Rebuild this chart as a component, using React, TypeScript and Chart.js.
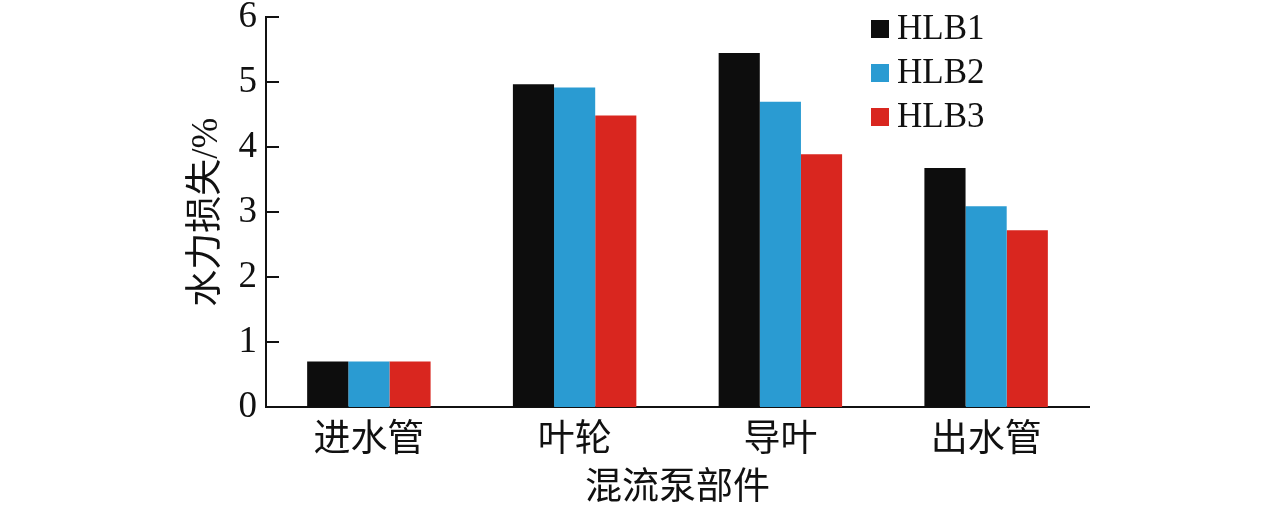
import React, { useEffect, useRef } from "react";
import { Chart, registerables } from "chart.js";

Chart.register(...registerables);

const categories = ["进水管", "叶轮", "导叶", "出水管"];
const seriesNames = ["HLB1", "HLB2", "HLB3"];
const hlb1 = [0.7, 4.97, 5.45, 3.68];
const hlb2 = [0.7, 4.92, 4.7, 3.09];
const hlb3 = [0.7, 4.49, 3.89, 2.72];
const yTicks = [0, 1, 2, 3, 4, 5, 6];
const colors = ["#0d0d0d", "#2a9bd2", "#d9261f"];

const FONT = "'Liberation Serif', 'Noto Sans CJK SC', serif";

const innerTicks = {
  id: "innerTicks",
  afterDraw(chart: any) {
    const { ctx, chartArea, scales } = chart;
    const y = scales.y;
    ctx.save();
    ctx.strokeStyle = "#111";
    ctx.lineWidth = 2;
    yTicks.forEach((v) => {
      const py = Math.round(y.getPixelForValue(v));
      ctx.beginPath();
      ctx.moveTo(chartArea.left, py);
      ctx.lineTo(chartArea.left + 13, py);
      ctx.stroke();
    });
    ctx.restore();
  },
};

const boxLegend = {
  id: "boxLegend",
  afterDraw(chart: any) {
    const { ctx } = chart;
    ctx.save();
    ctx.font = `35px ${FONT}`;
    ctx.textBaseline = "middle";
    ctx.textAlign = "left";
    chart.data.datasets.forEach((ds: any, i: number) => {
      const cy = 29 + i * 44;
      ctx.fillStyle = ds.backgroundColor;
      ctx.fillRect(871, cy - 9, 18, 18);
      ctx.fillStyle = "#111";
      ctx.fillText(ds.label, 897, cy + 1);
    });
    ctx.restore();
  },
};

export default function App() {
  const ref = useRef<HTMLCanvasElement>(null);
  useEffect(() => {
    document.body.style.margin = "0";
    const chart = new Chart(ref.current!, {
      type: "bar",
      data: {
        labels: categories,
        datasets: [hlb1, hlb2, hlb3].map((d, i) => ({
          label: seriesNames[i],
          data: d,
          backgroundColor: colors[i],
          borderWidth: 0,
          barPercentage: 1,
          categoryPercentage: 0.6,
        })),
      },
      options: {
        responsive: false,
        animation: false,
        layout: { padding: { left: 185, right: 187, top: 0, bottom: 0 } },
        plugins: { legend: { display: false }, tooltip: { enabled: false } },
        scales: {
          x: {
            grid: { display: false, drawTicks: false },
            border: { display: true, color: "#111", width: 2 },
            ticks: { color: "#111", font: { family: FONT, size: 37 }, padding: 12 },
            title: {
              display: true,
              text: "混流泵部件",
              color: "#111",
              font: { family: FONT, size: 37 },
              padding: { top: 0, bottom: 4 },
            },
            afterFit: (s: any) => {
              s.height = 108;
            },
          },
          y: {
            min: 0,
            max: 6,
            grid: { display: false, drawTicks: false },
            border: { display: true, color: "#111", width: 2 },
            afterBuildTicks: (s: any) => {
              s.ticks = yTicks.map((v) => ({ value: v }));
            },
            ticks: {
              color: "#111",
              font: { family: FONT, size: 37, lineHeight: 0.45 },
              padding: 9,
            },
            title: {
              display: true,
              text: "水力损失/%",
              color: "#111",
              font: { family: FONT, size: 37 },
              padding: { top: 0, bottom: 0 },
            },
            afterFit: (s: any) => {
              s.width = 81;
            },
          },
        },
      },
      plugins: [innerTicks, boxLegend],
    });
    return () => chart.destroy();
  }, []);
  return (
    <div style={{ width: 1276, height: 515, background: "#fff" }}>
      <canvas ref={ref} width={1276} height={515} />
    </div>
  );
}
